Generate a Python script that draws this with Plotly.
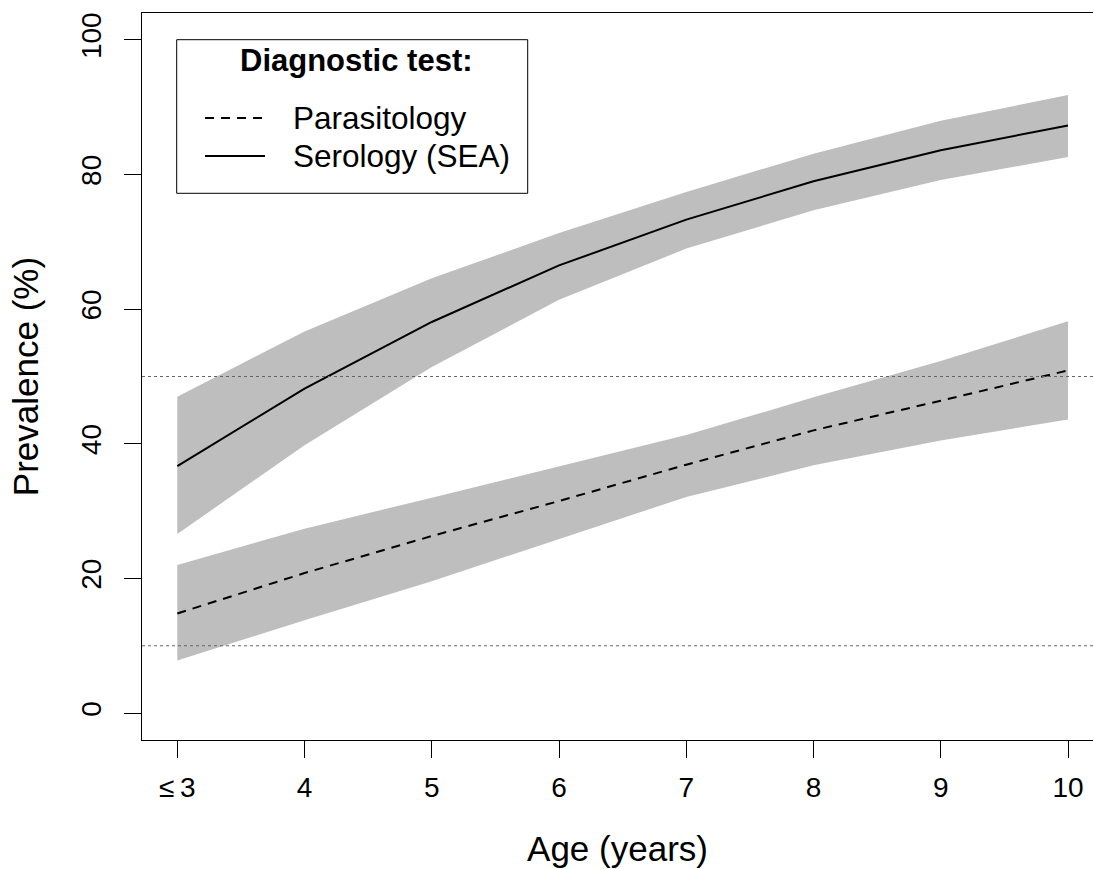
import plotly.graph_objects as go

# Age groups (3 = "3 years or younger")
ages = [3, 4, 5, 6, 7, 8, 9, 10]
age_labels = ["≤\u20093", "4", "5", "6", "7", "8", "9", "10"]

# Serology (SEA) prevalence (%) with 95% band
sero_mid = [36.7, 48.2, 58.1, 66.5, 73.3, 79.0, 83.6, 87.3]
sero_lo = [26.6, 39.8, 51.4, 61.4, 69.0, 74.7, 79.2, 82.6]
sero_hi = [47.0, 56.7, 64.6, 71.3, 77.4, 83.1, 88.0, 91.8]

# Parasitology prevalence (%) with 95% band
para_mid = [14.8, 20.8, 26.3, 31.5, 36.9, 42.0, 46.4, 50.9]
para_lo = [7.8, 13.8, 19.6, 25.8, 32.1, 36.8, 40.5, 43.6]
para_hi = [22.0, 27.4, 32.0, 36.7, 41.3, 46.9, 52.3, 58.2]

# Reference prevalence thresholds
thresholds = [10, 50]

W, H = 1093, 869
L, T, B = 142, 13, 129
plot_w = W - L
plot_h = H - T - B
x0 = 2.7226
x_unit = (1067.7 - 177.0) / 7
x_range = [x0, x0 + plot_w / x_unit]
y_range = [-4, 104]

FONT = "Liberation Sans, Arial, Helvetica, sans-serif"
BAND = "#BEBEBE"

fig = go.Figure()


def band(lo, hi):
    return go.Scatter(
        x=ages + ages[::-1],
        y=hi + lo[::-1],
        fill="toself",
        fillcolor=BAND,
        line=dict(width=0, color=BAND),
        mode="lines",
        hoverinfo="skip",
        showlegend=False,
    )


fig.add_trace(band(sero_lo, sero_hi))
fig.add_trace(band(para_lo, para_hi))

fig.add_trace(go.Scatter(x=ages, y=para_mid, mode="lines", name="Parasitology",
                         line=dict(color="black", width=2, dash="9px,7px"),
                         showlegend=False))
fig.add_trace(go.Scatter(x=ages, y=sero_mid, mode="lines", name="Serology (SEA)",
                         line=dict(color="black", width=2),
                         showlegend=False))

shapes = []
for t in thresholds:
    shapes.append(dict(type="line", xref="paper", yref="y", x0=0, x1=1, y0=t, y1=t,
                       line=dict(color="#666666", width=1, dash="dot"), layer="above"))


def px_x(p):
    return (p - L) / plot_w


def px_y(p):
    return (T + plot_h - p) / plot_h


# legend box
shapes.append(dict(type="rect", xref="paper", yref="paper",
                   x0=px_x(176.7), x1=px_x(527.7), y0=px_y(193.3), y1=px_y(39.7),
                   line=dict(color="black", width=1), fillcolor="white", layer="above"))
shapes.append(dict(type="line", xref="paper", yref="paper",
                   x0=px_x(205), x1=px_x(265), y0=px_y(118), y1=px_y(118),
                   line=dict(color="black", width=2, dash="9px,7px"), layer="above"))
shapes.append(dict(type="line", xref="paper", yref="paper",
                   x0=px_x(205), x1=px_x(265), y0=px_y(156), y1=px_y(156),
                   line=dict(color="black", width=2), layer="above"))

annotations = [
    dict(text="<b>Diagnostic test:</b>", xref="paper", yref="paper",
         x=px_x(356), y=px_y(61), xanchor="center", yanchor="middle",
         showarrow=False, font=dict(size=31, color="black", family=FONT)),
    dict(text="Parasitology", xref="paper", yref="paper",
         x=px_x(291), y=px_y(118), xanchor="left", yanchor="middle",
         showarrow=False, font=dict(size=31.5, color="black", family=FONT)),
    dict(text="Serology (SEA)", xref="paper", yref="paper",
         x=px_x(291), y=px_y(156), xanchor="left", yanchor="middle",
         showarrow=False, font=dict(size=31.5, color="black", family=FONT)),
]

fig.update_layout(
    width=W, height=H,
    margin=dict(l=L, r=0, t=T, b=B, pad=0),
    paper_bgcolor="white", plot_bgcolor="white",
    font=dict(family=FONT, color="black"),
    shapes=shapes,
    annotations=annotations,
    showlegend=False,
)

fig.update_xaxes(
    range=x_range,
    tickmode="array", tickvals=ages, ticktext=age_labels,
    ticks="outside", ticklen=17, tickwidth=1, tickcolor="black",
    showline=True, linecolor="black", linewidth=1, mirror=True,
    showgrid=False, zeroline=False,
    tickfont=dict(size=28, family=FONT, color="black"),
    ticklabelstandoff=5,
    title=dict(text="Age (years)", font=dict(size=35, family=FONT, color="black"),
               standoff=34),
)

fig.update_yaxes(
    range=y_range,
    tickmode="array", tickvals=[0, 20, 40, 60, 80, 100],
    ticks="outside", ticklen=17, tickwidth=1, tickcolor="black",
    showline=True, linecolor="black", linewidth=1, mirror=False,
    showgrid=False, zeroline=False,
    tickangle=-90,
    tickfont=dict(size=28, family=FONT, color="black"),
    ticklabelstandoff=12,
    title=dict(text="Prevalence (%)", font=dict(size=35, family=FONT, color="black"),
               standoff=26),
)

fig.write_html("out.html")
